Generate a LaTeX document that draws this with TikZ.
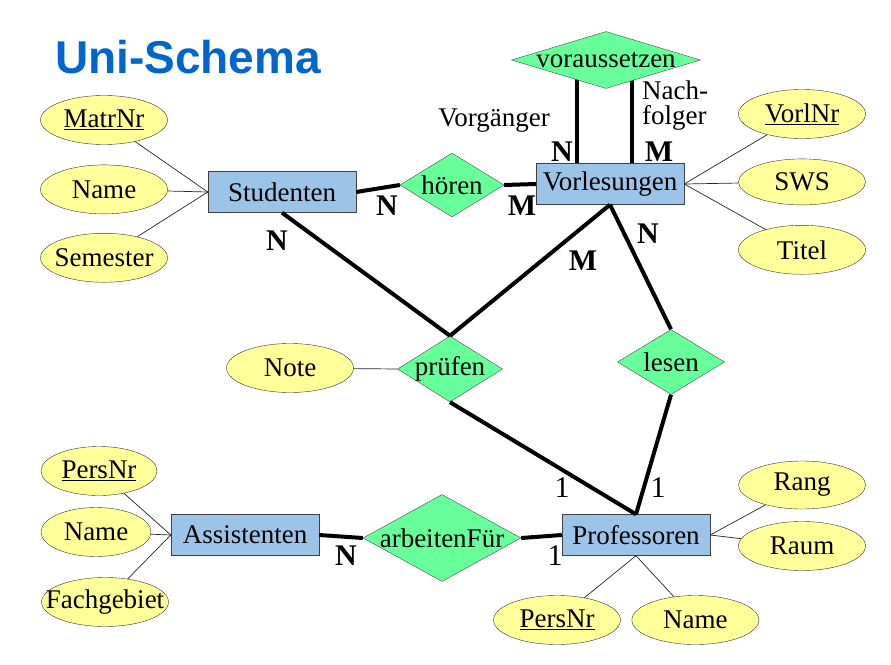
\documentclass[tikz,border=0pt]{standalone}
\usepackage{fontspec}
\setmainfont{Liberation Serif}
\newfontfamily\headfont{Liberation Sans}
\usepackage{tikz}
\usetikzlibrary{shapes.geometric,positioning,backgrounds}
\definecolor{entblue}{HTML}{9CC4E8}
\definecolor{relgreen}{HTML}{66FF99}
\definecolor{attyellow}{HTML}{FFFF99}
\definecolor{headblue}{HTML}{0066CC}

\begin{document}
\begin{tikzpicture}[x=1pt,y=-1pt,
  font=\fontsize{27}{24}\selectfont,node distance=20pt and 11pt,
  ent/.style={draw=black!75,fill=entblue,rectangle,minimum width=148pt,minimum height=41pt,inner sep=0pt},
  rel/.style={draw=black!70,fill=relgreen,diamond,inner xsep=-22pt,inner ysep=0pt},
  att/.style={draw=black!80,fill=attyellow,ellipse,minimum width=127pt,minimum height=49pt,inner xsep=-22pt,inner ysep=0pt},
  card/.style={font=\fontsize{30}{24}\selectfont\bfseries,inner sep=0pt},
  one/.style={inner sep=0pt},
  con/.style={line width=4pt},
  lnk/.style={line width=0.7pt,draw=black!85}]
\begin{scope}[on background layer]
\path[use as bounding box,fill=white] (0,0) rectangle (891,664);
\end{scope}
\node[anchor=base west,inner sep=0pt,text=headblue,font=\headfont\bfseries\fontsize{46}{50}\selectfont] (title) at (55,73) {Uni-Schema};
% entities
\node[ent] (stud) at (282,192) {Studenten};
\node[ent] (vorl) at (610,184) {Vorlesungen};
\node[ent] (assi) at (245,535) {Assistenten};
\node[ent] (prof) at (636,535) {Professoren};
% relationships
\node[rel,minimum width=104pt,minimum height=64pt,aspect=1.6] (hoeren) at (452,185) {hören};
\node[rel,minimum width=189pt,minimum height=57pt,aspect=3.3] (vor) at (606,60) {voraussetzen};
\node[rel,minimum width=105pt,minimum height=66pt,aspect=1.6] (pruef) at (450,369) {prüfen};
\node[rel,minimum width=107pt,minimum height=65pt,aspect=1.6] (lesen) at (671,362) {lesen};
\node[rel,minimum width=158pt,minimum height=87pt,aspect=1.8] (arb) at (442,538) {arbeitenFür};
% attributes
\node[att] (matrnr) at (104,120) {\underline{MatrNr}};
\node[att,below=of matrnr] (sname) {Name};
\node[att,below=19pt of sname] (sem) {Semester};
\node[att] (vorlnr) at (802,114) {\underline{VorlNr}};
\node[att,below=of vorlnr,minimum height=46pt] (sws) {SWS};
\node[att,below=of sws] (titel) {Titel};
\node[att] (note) at (290,368) {Note};
\node[att,minimum width=116pt] (apers) at (99,471) {\underline{PersNr}};
\node[att,minimum width=110pt] (aname) at (96,532) {Name};
\node[att] (fach) at (105,602) {Fachgebiet};
\node[att,minimum height=48pt] (rang) at (802,485) {Rang};
\node[att] (raum) at (802,546) {Raum};
\node[att] (ppers) at (557,620) {\underline{PersNr}};
\node[att,right=of ppers] (pname) {Name};
% roles and cardinalities
\node[one] (vorg) at (494,121) {Vorgänger};
\node[one,align=left,font=\fontsize{27}{25}\selectfont] (nachf) at (675,106) {Nach-\\folger};
\node[card] (c1) at (387,206) {N};
\node[card] (c2) at (522,206) {M};
\node[card] (c3) at (277,241) {N};
\node[card] (c4) at (583,261) {M};
\node[card] (c5) at (648,234) {N};
\node[card] (c6) at (562,152) {N};
\node[card] (c7) at (659,152) {M};
\node[card] (c8) at (346,556) {N};
\node[one,font=\fontsize{30}{24}\selectfont] (c9) at (562,488) {1};
\node[one,font=\fontsize{30}{24}\selectfont] (c10) at (658,488) {1};
\node[one,font=\fontsize{30}{24}\selectfont] (c11) at (555,556) {1};
% connectors
\begin{scope}[on background layer]
\draw[con] ([xshift=-33pt]vorl.north) -- ([xshift=-29pt]vor.center);
\draw[con] ([xshift=22pt]vorl.north) -- ([xshift=26pt]vor.center);
\end{scope}
\draw[con] (stud.east) -- (hoeren.west);
\draw[con] (hoeren.east) -- (vorl.west);
\draw[con] (stud.south) -- (pruef.north);
\draw[con] (vorl.south) -- (pruef.north);
\draw[con] (vorl.south) -- (lesen.north);
\draw[con] (pruef.south) -- (prof.north);
\draw[con] (lesen.south) -- (prof.north);
\draw[con] (assi.east) -- (arb.west);
\draw[con] (arb.east) -- (prof.west);
\draw[lnk] (matrnr) -- (stud.west);
\draw[lnk] (sname) -- (stud.west);
\draw[lnk] (sem) -- (stud.west);
\draw[lnk] (vorlnr) -- (vorl.east);
\draw[lnk] (sws) -- (vorl.east);
\draw[lnk] (titel) -- (vorl.east);
\draw[lnk] (note) -- (pruef.west);
\draw[lnk] (apers) -- (assi.west);
\draw[lnk] (aname) -- (assi.west);
\draw[lnk] (fach) -- (assi.west);
\draw[lnk] (rang) -- (prof.east);
\draw[lnk] (raum) -- (prof.east);
\draw[lnk] (ppers) -- (prof.south);
\draw[lnk] (pname) -- (prof.south);
\end{tikzpicture}
\end{document}
